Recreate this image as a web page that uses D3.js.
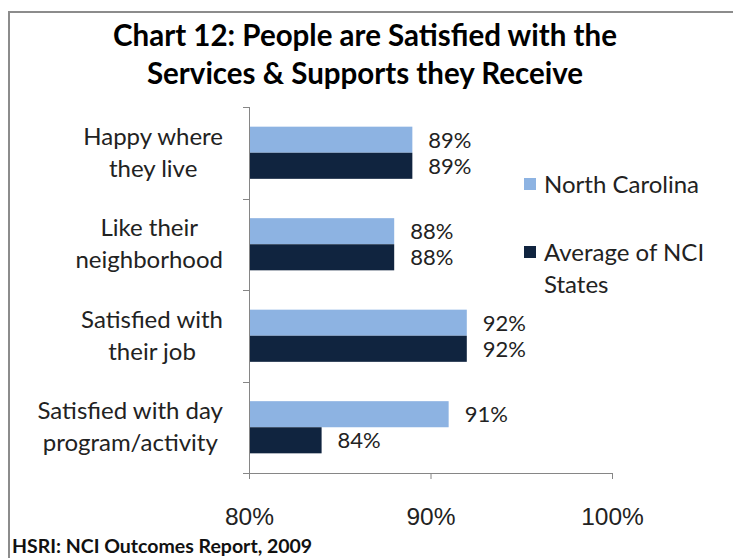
<!DOCTYPE html>
<html>
<head>
<meta charset="utf-8">
<script src="https://cdn.jsdelivr.net/npm/d3@7"></script>
<style>
  body { margin: 0; background: #fff; }
  svg { font-family: Lato, "Open Sans", sans-serif; }
  .axis path, .axis line { stroke: #868686; }
  .axis text { fill: #222; font-size: 24.5px; }
</style>
</head>
<body>
<div id="chart"></div>
<script>
var categories = [
  ['Happy where', 'they live'],
  ['Like their', 'neighborhood'],
  ['Satisfied with', 'their job'],
  ['Satisfied with day', 'program/activity']
];
var seriesNames = ['North Carolina', 'Average of NCI States'];
var northCarolina = [89, 88, 92, 91];
var nciAverage = [89, 88, 92, 84];
var xTicks = [80, 90, 100];
var colors = ['#8db3e2', '#10243f'];

var W = 733, H = 558;
var margin = { top: 107, left: 249, right: 121, bottom: 85 };
var w = W - margin.left - margin.right,
    h = H - margin.top - margin.bottom;

var svg = d3.select('#chart').append('svg')
  .attr('width', W).attr('height', H);

// outer frame
svg.append('rect')
  .attr('x', 9).attr('y', 12)
  .attr('width', 740).attr('height', 560)
  .attr('fill', 'none')
  .attr('stroke', '#8c8c8c')
  .attr('stroke-width', 2);

// title
var title = svg.append('text')
  .attr('text-anchor', 'middle')
  .attr('font-weight', 'bold')
  .attr('font-size', '29.5px')
  .attr('fill', '#000');
title.append('tspan').attr('x', 365).attr('y', 46).text('Chart 12: People are Satisfied with the');
title.append('tspan').attr('x', 365).attr('y', 84).text('Services & Supports they Receive');

var g = svg.append('g')
  .attr('transform', 'translate(' + margin.left + ',' + margin.top + ')');

var x = d3.scaleLinear().domain([80, 100]).range([0, w]);
var y0 = d3.scaleBand().domain(d3.range(categories.length)).range([0, h]).paddingInner(0.43).paddingOuter(0.215);
var y1 = d3.scaleBand().domain([0, 1]).range([0, y0.bandwidth()]);

var rows = categories.map(function(c, i) {
  return { i: i, vals: [northCarolina[i], nciAverage[i]] };
});

// bars
var grp = g.selectAll('.grp').data(rows).enter().append('g')
  .attr('transform', function(d) { return 'translate(0,' + y0(d.i) + ')'; });

grp.selectAll('rect').data(function(d) { return d.vals; }).enter().append('rect')
  .attr('x', 0)
  .attr('y', function(d, j) { return y1(j); })
  .attr('width', function(d) { return x(d); })
  .attr('height', y1.bandwidth())
  .attr('fill', function(d, j) { return colors[j]; });

grp.selectAll('.lbl').data(function(d) { return d.vals; }).enter().append('text')
  .attr('class', 'lbl')
  .attr('x', function(d) { return x(d) + 16; })
  .attr('y', function(d, j) { return y1(j) + y1.bandwidth() / 2; })
  .attr('dy', '0.36em')
  .attr('font-size', '22px')
  .attr('fill', '#222')
  .text(function(d) { return d + '%'; });

// x axis
g.append('g')
  .attr('class', 'axis')
  .attr('transform', 'translate(0,' + h + ')')
  .call(d3.axisBottom(x).tickValues(xTicks).tickSize(6).tickPadding(29)
    .tickFormat(function(d) { return d + '%'; }))
  .call(function(a) { a.select('.domain').attr('d', 'M-6,0.5H' + w); });

// y axis with category ticks between groups
var yAx = g.append('g').attr('class', 'axis');
yAx.append('line').attr('x1', 0.5).attr('x2', 0.5).attr('y1', 0).attr('y2', h);
yAx.selectAll('.tk').data(d3.range(categories.length + 1)).enter().append('line')
  .attr('x1', -6).attr('x2', 0)
  .attr('y1', function(d) { return Math.round(d * h / categories.length) + 0.5; })
  .attr('y2', function(d) { return Math.round(d * h / categories.length) + 0.5; });

// category labels, block centred then right aligned
var catRight = 223 - margin.left;
categories.forEach(function(lines, i) {
  var t = g.append('text')
    .attr('text-anchor', 'middle')
    .attr('font-size', '24px')
    .attr('fill', '#222');
  lines.forEach(function(s, k) {
    t.append('tspan').attr('y', y0(i) + y0.bandwidth() / 2 + (k === 0 ? -8 : 24)).text(s);
  });
  var maxW = d3.max(t.selectAll('tspan').nodes(), function(n) { return n.getComputedTextLength(); });
  t.selectAll('tspan').attr('x', catRight - maxW / 2);
});

// legend
var leg = svg.append('g').attr('font-size', '24px').attr('fill', '#222');
leg.append('rect').attr('x', 524).attr('y', 178).attr('width', 12).attr('height', 12).attr('fill', colors[0]);
leg.append('text').attr('x', 544).attr('y', 193).text(seriesNames[0]);
leg.append('rect').attr('x', 524).attr('y', 246).attr('width', 12).attr('height', 12).attr('fill', colors[1]);
var lt = leg.append('text').attr('y', 261);
lt.append('tspan').attr('x', 544).text('Average of NCI');
lt.append('tspan').attr('x', 544).attr('y', 293).text('States');

// source
svg.append('text')
  .attr('x', 12).attr('y', 553)
  .attr('font-size', '19.5px')
  .attr('font-weight', 'bold')
  .attr('fill', '#111')
  .text('HSRI: NCI Outcomes Report, 2009');
</script>
</body>
</html>
